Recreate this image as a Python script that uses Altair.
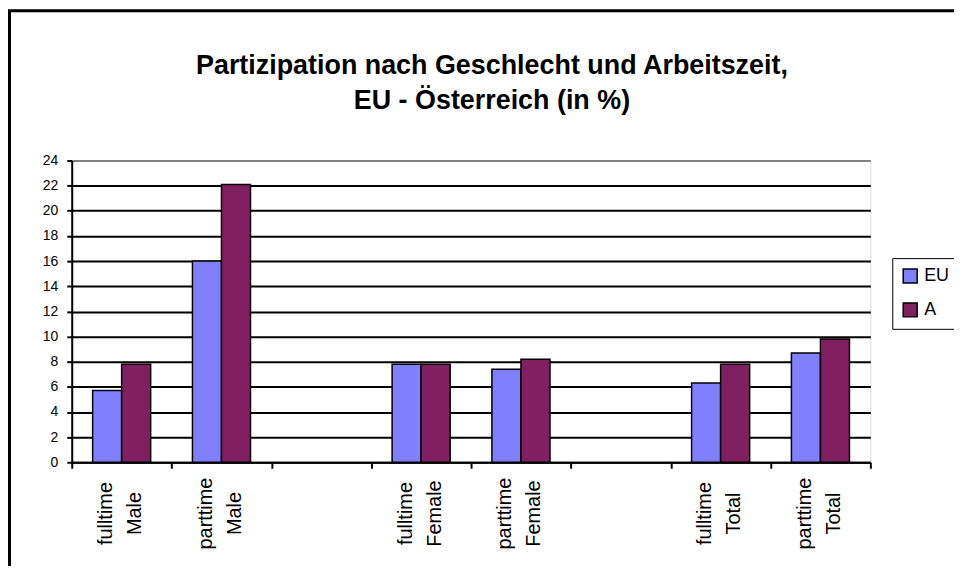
import altair as alt
import pandas as pd

categories = ["fulltime Male", "parttime Male", "gap1", "fulltime Female",
              "parttime Female", "gap2", "fulltime Total", "parttime Total"]
data_categories = ["fulltime Male", "parttime Male", "fulltime Female",
                   "parttime Female", "fulltime Total", "parttime Total"]
series = ["EU", "A"]
eu_values = [5.7, 16.0, 7.8, 7.4, 6.3, 8.7]
a_values = [7.8, 22.1, 7.8, 8.2, 7.8, 9.8]
y_ticks = list(range(0, 25, 2))
colors = ["#8080FF", "#802060"]
title_lines = ["Partizipation nach Geschlecht und Arbeitszeit,", "EU - Österreich (in %)"]

rows = []
for c, e, a in zip(data_categories, eu_values, a_values):
    rows.append({"cat": c, "series": "EU", "value": e})
    rows.append({"cat": c, "series": "A", "value": a})
df = pd.DataFrame(rows)

FONT = "Liberation Sans"

bars = alt.Chart(df).mark_bar(stroke="black", strokeWidth=1.5).encode(
    x=alt.X("cat:N", sort=categories,
            scale=alt.Scale(domain=categories, paddingInner=0, paddingOuter=0),
            axis=alt.Axis(title=None, tickBand="extent", ticks=True, tickSize=6,
                          tickColor="black", tickWidth=2, domainColor="black",
                          domainWidth=2, grid=False, labelAngle=270,
                          labelAlign="center", labelBaseline="middle",
                          labelFontSize=20, labelFont=FONT, labelColor="black",
                          labelLineHeight=29, labelPadding=45, labelLimit=300,
                          labelOffset=-16,
                          labelExpr="(!isValid(datum.value) || datum.value == 'gap1' || datum.value == 'gap2') ? '' : split(datum.value, ' ')")),
    xOffset=alt.XOffset("series:N", sort=series,
                        scale=alt.Scale(domain=series, paddingOuter=0.72, paddingInner=0)),
    y=alt.Y("value:Q",
            scale=alt.Scale(domain=[0, 24], nice=False, zero=True),
            axis=alt.Axis(title=None, values=y_ticks, grid=True,
                          gridColor={"condition": {"test": "datum.value === 24", "value": "#808080"}, "value": "black"},
                          gridWidth=2, tickSize=5, tickColor="black", tickWidth=2,
                          domainColor="black", domainWidth=2, labelFontSize=14,
                          labelFont=FONT, labelColor="black", labelPadding=9)),
    color=alt.Color("series:N", sort=series,
                    scale=alt.Scale(domain=series, range=colors),
                    legend=alt.Legend(title=None, orient="none", legendX=824, legendY=98,
                                      strokeColor="black", fillColor="white",
                                      padding=9, symbolType="square", symbolSize=196,
                                      symbolStrokeColor="black", symbolStrokeWidth=1.5,
                                      labelFontSize=18, labelFont=FONT, labelColor="black",
                                      labelOffset=5, rowPadding=14)),
)

border = alt.Chart(pd.DataFrame({"b": [0]})).mark_rect(
    fill=None, stroke="black", strokeWidth=3
).encode(x=alt.value(-62.5), y=alt.value(-150.5), x2=alt.value(1400), y2=alt.value(900))

title = alt.Chart(pd.DataFrame({"t": [0]})).mark_text(
    text=title_lines, font=FONT, fontSize=27, fontWeight="bold", color="black",
    lineHeight=35, align="center", baseline="alphabetic"
).encode(x=alt.value(422), y=alt.value(-87))

chart = alt.layer(bars, border, title).properties(
    width=802, height=303,
    autosize=alt.AutoSizeParams(type="none"),
    padding={"left": 64, "top": 152, "right": 84, "bottom": 103},
).configure_view(stroke="#808080", strokeWidth=1.5).configure(background="white")

chart.save("out.html", embed_options={"renderer": "svg", "actions": False})
